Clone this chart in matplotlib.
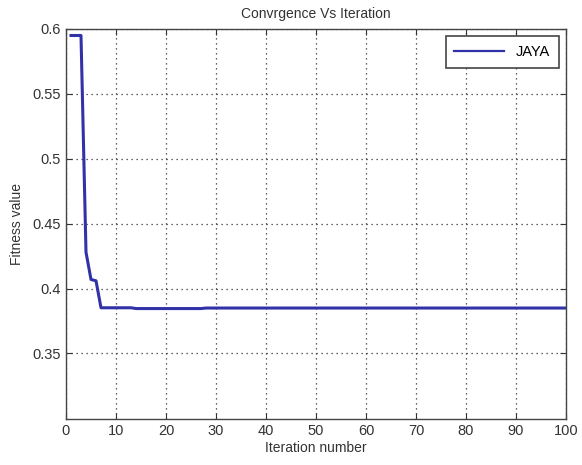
import numpy as np
import matplotlib.pyplot as plt

plt.rcParams['font.family'] = ['Liberation Sans', 'DejaVu Sans']

# Convergence data (iterations 1..100)
iterations = list(range(1, 101))
fitness = ([0.595, 0.595, 0.595, 0.428, 0.407, 0.406]
           + [0.3852] * 7
           + [0.3846] * 14
           + [0.3850] * 73)

y_ticks = [0.35, 0.4, 0.45, 0.5, 0.55, 0.6]
y_tick_labels = ['0.35', '0.4', '0.45', '0.5', '0.55', '0.6']
x_ticks = list(range(0, 101, 10))

fig = plt.figure(figsize=(5.82, 4.65), dpi=100)
ax = fig.add_axes([66 / 582, 1 - 419 / 465, 500 / 582, (419 - 29) / 465])

line, = ax.plot(iterations, fitness, color='#3232a8', linewidth=2.2, label='JAYA')

ax.set_xlim(0, 100)
ax.set_ylim(0.2995, 0.6)
ax.set_xticks(x_ticks)
ax.set_yticks(y_ticks)
ax.set_yticklabels(y_tick_labels)

ax.grid(True, linestyle=(0, (1, 3)), color='#333333', linewidth=0.9)
ax.tick_params(direction='in', top=True, right=True, length=4,
               labelsize=10.5, colors='#333333')
for spine in ax.spines.values():
    spine.set_color('#444444')
    spine.set_linewidth(1.0)

ax.set_xlabel('Iteration number', fontsize=10, color='#333333', labelpad=2)
ax.set_ylabel('Fitness value', fontsize=10, color='#333333', labelpad=6)
ax.set_title('Convrgence Vs Iteration', fontsize=10, color='#333333', pad=8)

leg = ax.legend(loc='upper right', fontsize=10.5, fancybox=False,
                framealpha=1, edgecolor='#444444', handlelength=3.4,
                borderpad=0.6, borderaxespad=0.5)
leg.get_frame().set_linewidth(1.2)
leg.get_lines()[0].set_linewidth(1.6)

fig.savefig('out.png', dpi=100)
